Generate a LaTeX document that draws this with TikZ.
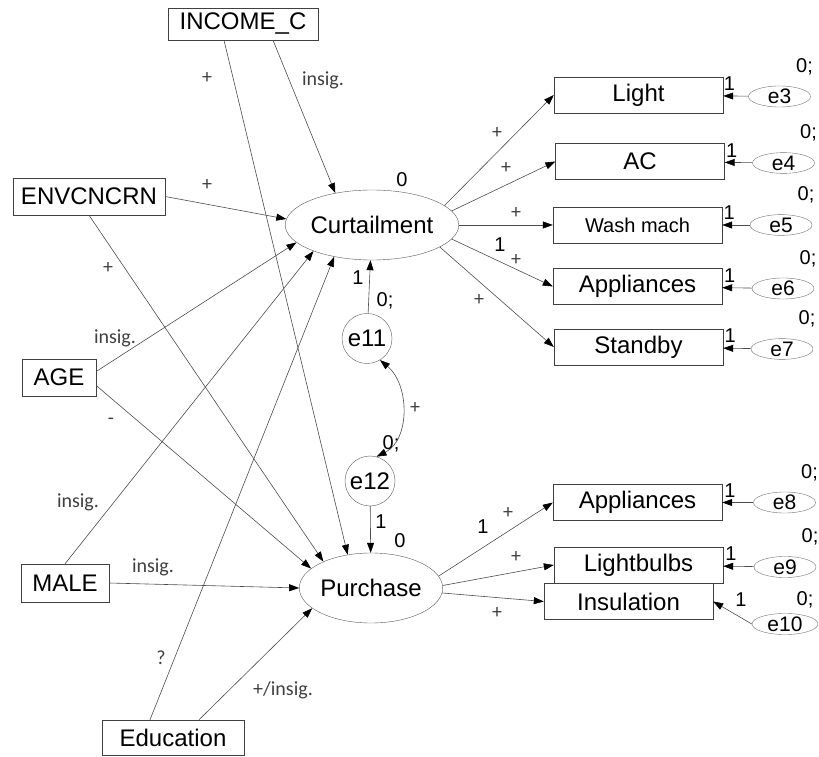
\documentclass[tikz,border=0pt]{standalone}
\usepackage{fontspec}
\setmainfont{Liberation Sans}
\newfontfamily\coeffont{Carlito}
\usetikzlibrary{arrows.meta,shapes.geometric}

\tikzset{
  >={Triangle[length=10pt,width=7pt,color=black]},
  obs/.style={draw=black!75, minimum width=169pt, minimum height=36pt, inner sep=0pt,
    font=\fontsize{24}{24}\selectfont},
  lat/.style={ellipse, draw=black!65, minimum width=126pt, minimum height=70pt, inner sep=0pt,
    font=\fontsize{24}{24}\selectfont},
  res/.style={circle, draw=black!65, minimum size=50pt, inner sep=0pt,
    font=\fontsize{24}{24}\selectfont},
  err/.style={ellipse, draw=black!55, minimum width=62pt, minimum height=20pt, inner sep=0pt,
    font=\fontsize{21}{21}\selectfont},
  reg/.style={draw=black!70, line width=0.6pt, ->},
  cov/.style={draw=black!70, line width=0.6pt, <->},
  num/.style={font=\fontsize{20}{20}\selectfont, inner sep=0pt},
  coef/.style={font=\coeffont\fontsize{20}{20}\selectfont, text=black!75, inner sep=0pt},
}

\begin{document}
\begin{tikzpicture}[x=1pt,y=1pt]
  \useasboundingbox (0,0) rectangle (819,756);

  % exogenous variables
  \node[obs, minimum width=150pt, minimum height=32pt] (income) at (243,732) {INCOME\_C};
  \node[obs, minimum width=152pt, minimum height=37pt] (env) at (89,559.5) {ENVCNCRN};
  \node[obs, minimum width=74pt, minimum height=37pt] (age) at (59,378.5) {AGE};
  \node[obs, minimum width=88pt, minimum height=38pt] (male) at (65,173) {MALE};
  \node[obs, minimum width=142pt, minimum height=35pt] (edu) at (173,18.5) {Education};

  % latent variables
  \node[lat] (curt) at (372,531) {Curtailment};
  \node[lat, minimum width=122pt] (purch) at (371,168) {Purchase};
  \node[res] (e11) at (367,417.5) {e11};
  \node[res] (e12) at (370,275) {e12};

  % indicators
  \node[obs] (light) at (638.5,661) {Light};
  \node[obs] (ac) at (640,594.5) {AC};
  \node[obs, font=\fontsize{20}{20}\selectfont] (wash) at (637.5,531) {Wash mach};
  \node[obs] (appc) at (637.5,469.5) {Appliances};
  \node[obs] (standby) at (638.5,409) {Standby};
  \node[obs] (appp) at (637.5,253.5) {Appliances};
  \node[obs] (bulbs) at (638.5,191) {Lightbulbs};
  \node[obs] (insul) at (628.5,154.5) {Insulation};

  % structural paths
  \draw[reg] ([xshift=30pt]income.south) -- (curt.139);
  \draw[reg] ([xshift=-19pt]income.south) -- (purch.125);
  \draw[reg] (env.east) -- (curt.176);
  \draw[reg] (env.south) -- (purch.151);
  \draw[reg] ([yshift=6pt]age.east) -- (curt.193);
  \draw[reg] ([yshift=-8pt]age.east) -- (purch.162);
  \draw[reg] (male.north) -- (curt.204);
  \draw[reg] (male.east) -- (purch.180);
  \draw[reg] ([xshift=-23pt]edu.north) -- (curt.220);
  \draw[reg] ([xshift=26pt]edu.north) -- (purch.199);

  \node[coef] at (323,676) {insig.};
  \node[coef] at (207,678) {+};
  \node[coef] at (207,571) {+};
  \node[coef] at (108,488) {+};
  \node[coef] at (115,418) {insig.};
  \node[coef] at (111,335) {-};
  \node[coef] at (78,254) {insig.};
  \node[coef] at (153,189) {insig.};
  \node[coef] at (161,98) {?};
  \node[coef] at (283,66) {+/insig.};

  % disturbances
  \draw[reg] (e11) -- (curt);
  \draw[reg] (e12) -- (purch);
  \draw[cov] (e12.75) .. controls (410,316) and (410,371) .. (e11.301);
  \node[num] at (402,576) {0};
  \node[num] at (400,215) {0};
  \node[num] at (358,478) {1};
  \node[num] at (385,455) {0;};
  \node[num] at (381,234) {1};
  \node[num] at (391,312) {0;};
  \node[coef] at (415,348) {+};

  % measurement paths
  \draw[reg] (curt.15) -- (light.west);
  \draw[reg] (curt.10) -- (ac.west);
  \draw[reg] (curt.east) -- (wash.west);
  \draw[reg] (curt.350) -- (appc.west);
  \draw[reg] (curt.342) -- (standby.west);
  \draw[reg] (purch.10) -- (appp.west);
  \draw[reg] (purch.2) -- (bulbs.west);
  \draw[reg] (purch.356) -- (insul.west);

  \node[coef] at (497,623) {+};
  \node[coef] at (506,588) {+};
  \node[coef] at (516,543) {+};
  \node[num] at (500,511) {1};
  \node[coef] at (516,496) {+};
  \node[coef] at (479,456) {+};
  \node[num] at (483,229) {1};
  \node[coef] at (508,243) {+};
  \node[coef] at (516,199) {+};
  \node[coef] at (497,143) {+};

  % error terms
  \foreach \n/\x/\y/\b in {e3/779.5/659.5/light, e4/783.5/593/ac, e5/781/531/wash,
      e6/783/467.5/appc, e7/782/407/standby, e8/784.5/253.5/appp, e9/785/189/bulbs}
  {
    \node[err] (\n) at (\x,\y) {\n};
    \node[num] at ([xshift=25pt,yshift=30pt]\n.center) {0;};
    \draw[reg] (\n) -- node[num, pos=0.75, above=5pt] {1} (\b);
  }
  \node[err, minimum width=66pt] (e10) at (785,132) {e10};
  \node[num] at (805,156) {0;};
  \draw[reg] (e10.west) -- (insul.east);
  \node[num] at (741,156) {1};
\end{tikzpicture}
\end{document}
